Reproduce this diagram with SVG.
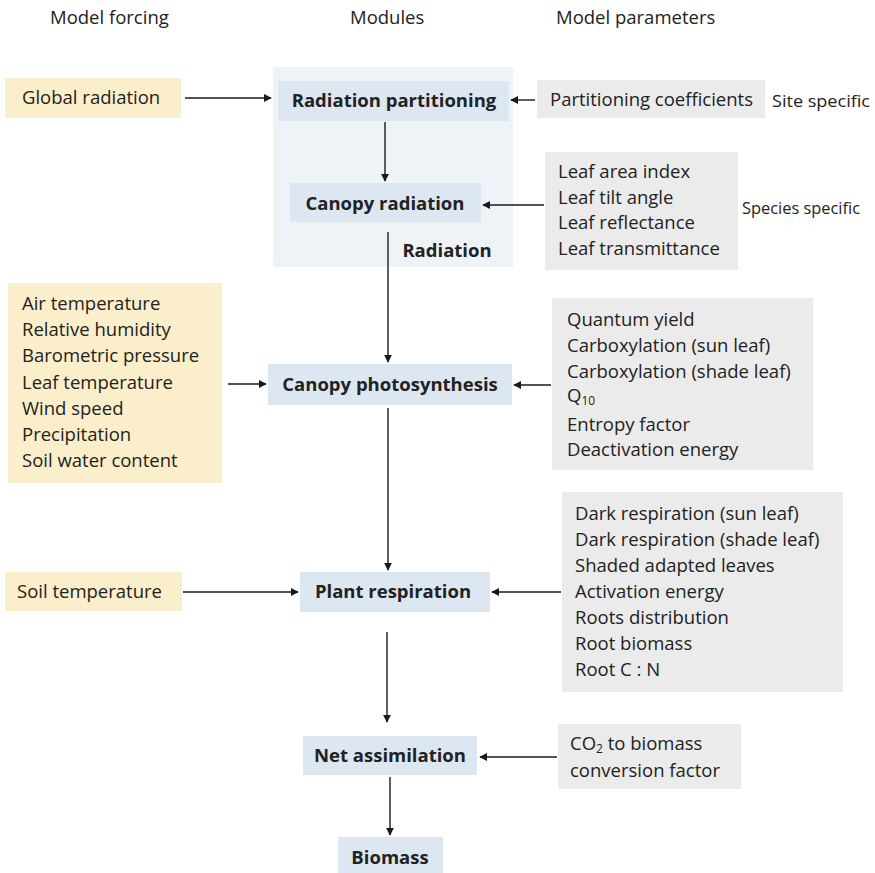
<svg xmlns="http://www.w3.org/2000/svg" width="875" height="873" viewBox="0 0 875 873">
<defs>
<marker id="ah" viewBox="0 0 10 10" refX="9" refY="5" markerWidth="8" markerHeight="8" markerUnits="userSpaceOnUse" orient="auto"><path d="M0,0 L10,5 L0,10 z" fill="#1a1a1a"/></marker>
<style>
text{font-family:"Open Sans","Noto Sans",sans-serif;fill:#222;}
.h{font-size:18.5px;}
.t{font-size:18.5px;}
.b{font-size:18.5px;font-weight:bold;text-anchor:middle;}
.s{font-size:16px;}
.forc{fill:#fbeecb;}
.mod{fill:#dce7f2;}
.par{fill:#ebebeb;}
.conn line{stroke:#1a1a1a;stroke-width:1.4;marker-end:url(#ah);}
</style>
</defs>
<rect width="875" height="873" fill="#fff"/>
<g id="headers">
<text class="h" x="50" y="24">Model forcing</text>
<text class="h" x="350" y="24">Modules</text>
<text class="h" x="556" y="24">Model parameters</text>
</g>
<g id="radiation-group"><rect x="273" y="67" width="240" height="200" fill="#eef3f8"/>
<text class="b" x="447" y="257">Radiation</text></g>
<g id="global-radiation"><rect class="forc" x="5" y="78" width="176" height="40"/><text class="t" x="22" y="104">Global radiation</text></g>
<g id="radiation-partitioning"><rect class="mod" x="278" y="81" width="231" height="40"/><text class="b" x="394" y="107">Radiation partitioning</text></g>
<g id="partitioning-coefficients"><rect class="par" x="537" y="80" width="228" height="38"/><text class="t" x="550" y="106">Partitioning coefficients</text><text class="s" x="772" y="107" textLength="98" lengthAdjust="spacingAndGlyphs">Site specific</text></g>
<g id="canopy-radiation"><rect class="mod" x="290" y="183" width="191" height="39"/><text class="b" x="385" y="210">Canopy radiation</text></g>
<g id="leaf-params"><rect class="par" x="545" y="152" width="193" height="118"/>
<text class="t" x="558" y="178">Leaf area index</text><text class="t" x="558" y="204">Leaf tilt angle</text><text class="t" x="558" y="229">Leaf reflectance</text><text class="t" x="558" y="255">Leaf transmittance</text>
<text class="s" x="742" y="214" textLength="118" lengthAdjust="spacingAndGlyphs">Species specific</text></g>
<g id="met-forcing"><rect class="forc" x="8" y="283" width="214" height="200"/>
<text class="t" x="22" y="310">Air temperature</text><text class="t" x="22" y="336">Relative humidity</text><text class="t" x="22" y="362">Barometric pressure</text><text class="t" x="22" y="389">Leaf temperature</text><text class="t" x="22" y="415">Wind speed</text><text class="t" x="22" y="441">Precipitation</text><text class="t" x="22" y="467">Soil water content</text></g>
<g id="canopy-photosynthesis"><rect class="mod" x="268" y="364" width="244" height="41"/><text class="b" x="390" y="391">Canopy photosynthesis</text></g>
<g id="photo-params"><rect class="par" x="552" y="298" width="261" height="172"/>
<text class="t" x="567" y="326">Quantum yield</text><text class="t" x="567" y="352">Carboxylation (sun leaf)</text><text class="t" x="567" y="378">Carboxylation (shade leaf)</text><text class="t" x="567" y="402">Q<tspan font-size="12" dy="3">10</tspan></text><text class="t" x="567" y="431">Entropy factor</text><text class="t" x="567" y="456">Deactivation energy</text></g>
<g id="soil-temperature"><rect class="forc" x="5" y="572" width="177" height="39"/><text class="t" x="17" y="598">Soil temperature</text></g>
<g id="plant-respiration"><rect class="mod" x="300" y="572" width="190" height="40"/><text class="b" x="393" y="598">Plant respiration</text></g>
<g id="resp-params"><rect class="par" x="562" y="492" width="281" height="200"/>
<text class="t" x="575" y="520">Dark respiration (sun leaf)</text><text class="t" x="575" y="546">Dark respiration (shade leaf)</text><text class="t" x="575" y="572">Shaded adapted leaves</text><text class="t" x="575" y="598">Activation energy</text><text class="t" x="575" y="624">Roots distribution</text><text class="t" x="575" y="650">Root biomass</text><text class="t" x="575" y="676">Root C : N</text></g>
<g id="net-assimilation"><rect class="mod" x="303" y="736" width="174" height="39"/><text class="b" x="390" y="762">Net assimilation</text></g>
<g id="co2-factor"><rect class="par" x="558" y="724" width="183" height="65"/>
<text class="t" x="570" y="750">CO<tspan font-size="12" dy="3">2</tspan><tspan dy="-3"> to biomass</tspan></text><text class="t" x="570" y="777">conversion factor</text></g>
<g id="biomass"><rect class="mod" x="338" y="837" width="105" height="36"/><text class="b" x="390" y="864">Biomass</text></g>
<g id="connectors" class="conn">
<line x1="185" y1="98" x2="271" y2="98"/>
<line x1="535" y1="100" x2="511" y2="100"/>
<line x1="385" y1="122" x2="385" y2="181"/>
<line x1="544" y1="205" x2="483" y2="205"/>
<line x1="388" y1="232" x2="388" y2="362"/>
<line x1="228" y1="384" x2="266" y2="384"/>
<line x1="551" y1="385" x2="514" y2="385"/>
<line x1="388" y1="408" x2="388" y2="570"/>
<line x1="183" y1="592" x2="298" y2="592"/>
<line x1="561" y1="592" x2="492" y2="592"/>
<line x1="387" y1="632" x2="387" y2="722"/>
<line x1="557" y1="757" x2="480" y2="757"/>
<line x1="390" y1="777" x2="390" y2="835"/>
</g>
</svg>
